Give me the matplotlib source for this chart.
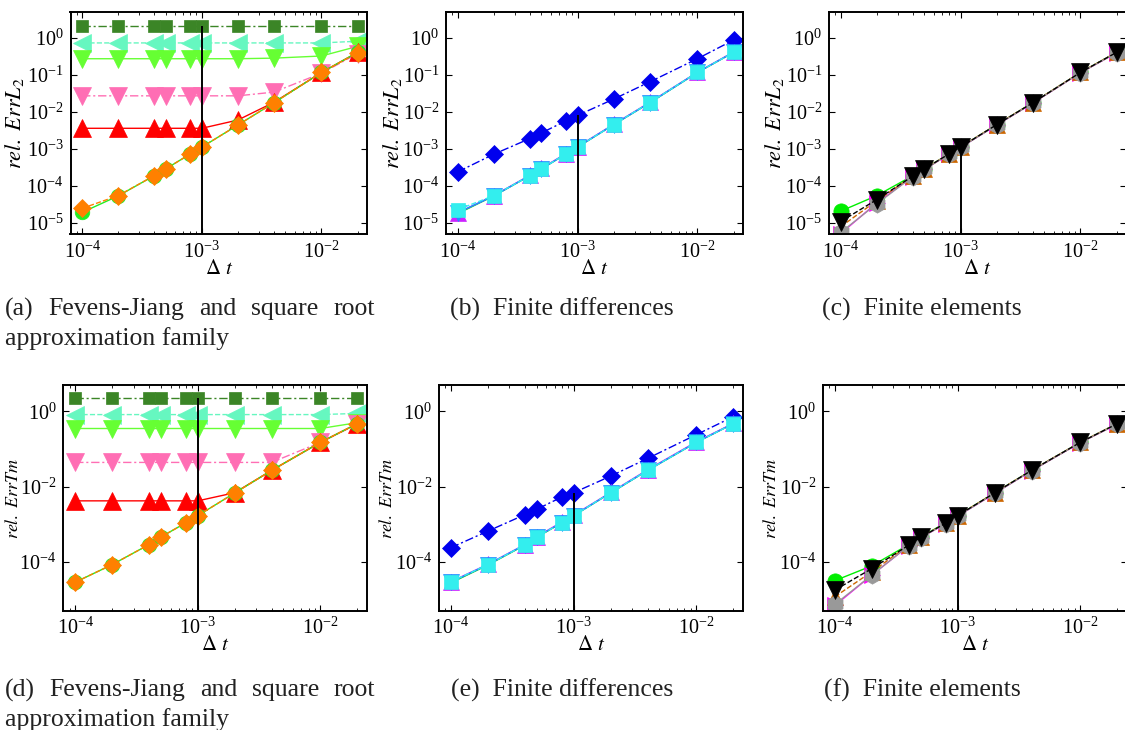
import matplotlib
matplotlib.use("Agg")
import matplotlib.pyplot as plt
from matplotlib.ticker import LogLocator, NullLocator, NullFormatter

plt.rcParams['font.family'] = ['Liberation Serif', 'DejaVu Serif']
plt.rcParams['mathtext.fontset'] = 'stix'

# time steps
dt = [1e-4, 2e-4, 4e-4, 5e-4, 8e-4, 1e-3, 2e-3, 4e-3, 1e-2, 2e-2]

# (a) Fevens-Jiang / square root family, rel. ErrL2
a_square = [2.0, 2.0, 2.0, 2.0, 2.0, 2.0, 2.0, 2.0, 2.0, 2.0]
a_left = [0.72, 0.72, 0.72, 0.72, 0.72, 0.72, 0.72, 0.72, 0.72, 0.80]
a_gdown = [0.27, 0.27, 0.27, 0.27, 0.27, 0.27, 0.27, 0.28, 0.32, 0.58]
a_pink = [0.027, 0.027, 0.027, 0.027, 0.027, 0.027, 0.027, 0.034, 0.11, 0.37]
a_red = [3.6e-3, 3.6e-3, 3.6e-3, 3.6e-3, 3.6e-3, 3.6e-3, 6.0e-3, 1.8e-2, 0.115, 0.40]
a_circle = [1.95e-5, 5.4e-5, 1.9e-4, 2.9e-4, 7.3e-4, 1.12e-3, 4.4e-3, 1.75e-2, 0.115, 0.40]
a_diamond = [2.5e-5, 5.5e-5, 1.9e-4, 2.9e-4, 7.3e-4, 1.12e-3, 4.4e-3, 1.75e-2, 0.115, 0.39]

# (b) finite differences, rel. ErrL2
b_blue = [2.4e-4, 7.2e-4, 1.9e-3, 2.7e-3, 5.7e-3, 8.0e-3, 2.2e-2, 6.4e-2, 0.27, 0.86]
b_green = [1.8e-5, 5.4e-5, 1.9e-4, 2.9e-4, 7.3e-4, 1.12e-3, 4.5e-3, 1.75e-2, 0.115, 0.40]
b_magenta = [1.9e-5, 5.5e-5, 1.95e-4, 3.0e-4, 7.5e-4, 1.15e-3, 4.6e-3, 1.8e-2, 0.117, 0.41]
b_dodger = [1.9e-5, 5.4e-5, 1.9e-4, 2.9e-4, 7.3e-4, 1.12e-3, 4.5e-3, 1.75e-2, 0.115, 0.40]
b_cyan = [2.3e-5, 5.5e-5, 1.9e-4, 2.9e-4, 7.4e-4, 1.13e-3, 4.5e-3, 1.78e-2, 0.116, 0.40]

# (c) finite elements, rel. ErrL2
c_green = [2.1e-5, 5.5e-5, 1.9e-4, 2.9e-4, 7.3e-4, 1.12e-3, 4.5e-3, 1.75e-2, 0.115, 0.40]
c_gray = [5.6e-6, 3.3e-5, 1.8e-4, 2.8e-4, 7.2e-4, 1.1e-3, 4.4e-3, 1.72e-2, 0.113, 0.39]
c_magenta = [5.2e-6, 3.5e-5, 1.8e-4, 2.8e-4, 7.2e-4, 1.1e-3, 4.4e-3, 1.72e-2, 0.113, 0.39]
c_orange = [8.0e-6, 4.0e-5, 1.85e-4, 2.85e-4, 7.3e-4, 1.12e-3, 4.5e-3, 1.75e-2, 0.115, 0.40]
c_black = [1.1e-5, 4.3e-5, 1.85e-4, 2.9e-4, 7.3e-4, 1.12e-3, 4.5e-3, 1.75e-2, 0.115, 0.40]

# (d) Fevens-Jiang / square root family, rel. ErrTm
d_square = [2.2, 2.2, 2.2, 2.2, 2.2, 2.2, 2.2, 2.2, 2.2, 2.2]
d_left = [0.82, 0.82, 0.82, 0.82, 0.82, 0.82, 0.82, 0.82, 0.82, 0.88]
d_gdown = [0.35, 0.35, 0.35, 0.35, 0.35, 0.35, 0.35, 0.35, 0.35, 0.50]
d_pink = [0.044, 0.044, 0.044, 0.044, 0.044, 0.044, 0.044, 0.044, 0.15, 0.46]
d_red = [4.2e-3, 4.2e-3, 4.2e-3, 4.2e-3, 4.2e-3, 4.2e-3, 6.9e-3, 2.7e-2, 0.15, 0.47]
d_circle = [2.9e-5, 8.5e-5, 2.9e-4, 4.6e-4, 1.1e-3, 1.7e-3, 6.8e-3, 2.7e-2, 0.15, 0.47]
d_diamond = [2.9e-5, 8.5e-5, 2.9e-4, 4.6e-4, 1.1e-3, 1.7e-3, 6.8e-3, 2.7e-2, 0.15, 0.47]

# (e) finite differences, rel. ErrTm
e_blue = [2.4e-4, 6.6e-4, 1.8e-3, 2.5e-3, 5.3e-3, 6.9e-3, 1.9e-2, 5.6e-2, 0.24, 0.72]
e_green = [2.8e-5, 8.3e-5, 2.8e-4, 4.5e-4, 1.1e-3, 1.7e-3, 6.8e-3, 2.7e-2, 0.15, 0.47]
e_magenta = [3.0e-5, 8.7e-5, 2.9e-4, 4.7e-4, 1.15e-3, 1.75e-3, 7.0e-3, 2.8e-2, 0.155, 0.48]
e_dodger = [2.9e-5, 8.5e-5, 2.85e-4, 4.6e-4, 1.1e-3, 1.7e-3, 6.8e-3, 2.7e-2, 0.15, 0.47]
e_cyan = [3.0e-5, 8.5e-5, 2.85e-4, 4.6e-4, 1.1e-3, 1.7e-3, 6.9e-3, 2.7e-2, 0.15, 0.47]

# (f) finite elements, rel. ErrTm
f_green = [3.2e-5, 7.9e-5, 2.9e-4, 4.6e-4, 1.1e-3, 1.7e-3, 6.8e-3, 2.7e-2, 0.15, 0.47]
f_gray = [7.5e-6, 4.5e-5, 2.7e-4, 4.4e-4, 1.05e-3, 1.65e-3, 6.6e-3, 2.65e-2, 0.148, 0.46]
f_magenta = [7.0e-6, 4.5e-5, 2.7e-4, 4.4e-4, 1.05e-3, 1.65e-3, 6.6e-3, 2.65e-2, 0.148, 0.46]
f_orange = [1.2e-5, 5.5e-5, 2.8e-4, 4.5e-4, 1.08e-3, 1.7e-3, 6.8e-3, 2.7e-2, 0.15, 0.47]
f_black = [1.8e-5, 6.7e-5, 2.8e-4, 4.5e-4, 1.08e-3, 1.7e-3, 6.8e-3, 2.7e-2, 0.15, 0.47]

captions = ["(a) Fevens-Jiang and square root", "(b)  Finite differences", "(c)  Finite elements",
            "(d) Fevens-Jiang and square root", "(e)  Finite differences", "(f)  Finite elements"]
caption_line2 = "approximation family"

W, H = 1125, 730
fig = plt.figure(figsize=(W / 100, H / 100), dpi=100)


def px_axes(left, top, right, bottom):
    return fig.add_axes([left / W, 1 - bottom / H, (right - left) / W, (bottom - top) / H])


def style(ax, ylabel, yticks, label_off, label_size):
    ax.set_xscale('log')
    ax.set_yscale('log')
    ax.set_xlim(8.0e-5, 2.4e-2)
    ax.set_ylim(5e-6, 5.0)
    ax.xaxis.set_major_locator(LogLocator(base=10, numticks=10))
    ax.xaxis.set_minor_locator(LogLocator(base=10, subs=range(2, 10), numticks=10))
    ax.xaxis.set_minor_formatter(NullFormatter())
    ax.set_yticks(yticks)
    ax.yaxis.set_minor_locator(NullLocator())
    ax.tick_params(which='both', direction='in', top=True, right=True, labelsize=14.5, pad=5)
    ax.tick_params(which='major', length=4, width=0.8)
    ax.tick_params(which='minor', length=2, width=0.6)
    for s in ax.spines.values():
        s.set_linewidth(1.4)
    ax.set_xlabel(r'$\Delta\ t$', fontsize=15, labelpad=-2)
    ax.set_ylabel(ylabel, fontsize=label_size)
    # label centre sits label_off px left of the frame (coords give its right edge)
    width_px = ax.get_position().width * W
    half = 0.7 * label_size
    ax.yaxis.set_label_coords(-(label_off - half) / width_px, 0.5)


def vline(ax, series):
    top = max(s[dt.index(1e-3)] for s in series)
    ax.vlines(1e-3, 5e-6, top, color='black', lw=1.4, zorder=5)


def mk(ax, y, color, marker, ls, ms, lw=1.0):
    ax.plot(dt, y, color=color, ls=ls, lw=lw, marker=marker, ms=ms,
            mfc=color, mec=color, mew=0.5)


def family_panel(ax, sq, left, gdown, pink, red, circ, diam):
    mk(ax, sq, '#3b8526', 's', (0, (6, 2, 1.5, 2)), 8.5)
    mk(ax, left, '#66f7c0', '<', '--', 12.5)
    mk(ax, gdown, '#66ff33', 'v', '-', 12.5)
    mk(ax, pink, '#ff6eb4', 'v', (0, (6, 2, 1.5, 2)), 12.5)
    mk(ax, red, '#ff0000', '^', '-', 12.5)
    mk(ax, circ, '#22ee22', 'o', '-', 10.5)
    mk(ax, diam, '#ff8000', 'D', '--', 9.5)
    vline(ax, [sq, left, gdown, pink, red, circ, diam])


def fd_panel(ax, blue, green, magenta, dodger, cyan):
    mk(ax, blue, '#0000ee', 'D', (0, (6, 2, 1.5, 2)), 9.5)
    mk(ax, green, '#00dd00', 'o', '-', 9)
    mk(ax, magenta, '#cc22ff', '^', '-', 12)
    mk(ax, dodger, '#2090ff', 'v', '-', 12)
    mk(ax, cyan, '#33eeee', 's', '--', 10)
    vline(ax, [blue, green, magenta, dodger, cyan])


def fe_panel(ax, green, gray, magenta, orange, black):
    mk(ax, green, '#00ee00', 'o', '-', 11)
    mk(ax, magenta, '#ff00ff', '>', '-', 12)
    mk(ax, orange, '#cc6600', '^', '--', 12)
    mk(ax, gray, '#999999', 'h', '-', 12.5)
    mk(ax, black, '#000000', 'v', '--', 12.5)
    vline(ax, [green, gray, magenta, orange, black])


row1_ticks = [1e-5, 1e-4, 1e-3, 1e-2, 1e-1, 1e0]
row2_ticks = [1e-4, 1e-2, 1e0]
yl1 = r'$rel.\ ErrL_2$'
yl2 = r'$rel.\ ErrTm$'

ax = px_axes(70.5, 11.7, 367, 234.3)
family_panel(ax, a_square, a_left, a_gdown, a_pink, a_red, a_circle, a_diamond)
style(ax, yl1, row1_ticks, 56, 16)

ax = px_axes(446, 11.7, 743, 234.3)
fd_panel(ax, b_blue, b_green, b_magenta, b_dodger, b_cyan)
style(ax, yl1, row1_ticks, 53, 16)

ax = px_axes(829, 11.7, 1126, 234.3)
fe_panel(ax, c_green, c_gray, c_magenta, c_orange, c_black)
style(ax, yl1, row1_ticks, 54, 16)

ax = px_axes(63.3, 385, 367, 611)
family_panel(ax, d_square, d_left, d_gdown, d_pink, d_red, d_circle, d_diamond)
style(ax, yl2, row2_ticks, 50, 13)

ax = px_axes(439, 385, 743, 611)
fd_panel(ax, e_blue, e_green, e_magenta, e_dodger, e_cyan)
style(ax, yl2, row2_ticks, 52, 13)

ax = px_axes(823, 385, 1127, 611)
fe_panel(ax, f_green, f_gray, f_magenta, f_orange, f_black)
style(ax, yl2, row2_ticks, 52, 13)

# captions
cap_font = dict(fontsize=18.5, color='#222222', va='center')
fig.canvas.draw()
renderer = fig.canvas.get_renderer()


def justified(text, x0, x1, y):
    words = text.split()
    objs = [fig.text(x0 / W, 1 - y / H, w, ha='left', **cap_font) for w in words]
    widths = [o.get_window_extent(renderer).width for o in objs]
    gap = (x1 - x0 - sum(widths)) / (len(words) - 1)
    x = x0
    for o, wd in zip(objs, widths):
        o.set_x(x / W)
        x += wd + gap


for row, y in [(0, 309), (1, 690)]:
    justified(captions[row * 3], 5, 375, y)
    fig.text(5 / W, 1 - (y + 30) / H, caption_line2, ha='left', **cap_font)
    fig.text(562 / W, 1 - y / H, captions[row * 3 + 1], ha='center', **cap_font)
    fig.text(922 / W, 1 - y / H, captions[row * 3 + 2], ha='center', **cap_font)

fig.savefig('out.png', dpi=100)
